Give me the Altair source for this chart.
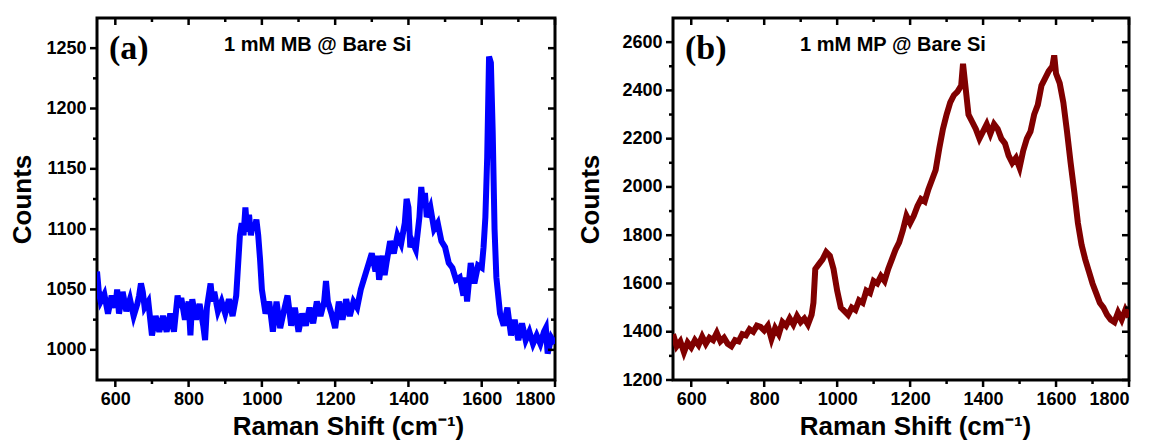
import altair as alt
import pandas as pd

# ---------------- data ----------------
mb_shift = [550,555,560,570,580,590,600,605,610,620,630,640,650,660,665,670,675,680,690,700,
            710,720,730,740,750,760,770,775,780,790,800,805,810,820,830,840,845,850,860,865,
            870,880,890,900,910,920,930,935,940,945,950,955,960,965,970,975,980,985,990,995,
            1000,1010,1020,1030,1040,1050,1060,1070,1080,1090,1100,1110,1120,1130,1140,1150,
            1160,1170,1175,1180,1190,1200,1210,1220,1230,1240,1250,1260,1270,1280,1290,1300,
            1310,1315,1320,1330,1335,1340,1350,1360,1370,1380,1390,1395,1400,1405,1410,1420,
            1430,1435,1440,1445,1450,1460,1470,1480,1490,1500,1510,1520,1530,1540,1550,1555,
            1560,1570,1580,1590,1600,1605,1610,1615,1620,1625,1630,1635,1640,1650,1660,1670,
            1680,1690,1700,1710,1720,1730,1740,1750,1760,1770,1775,1780,1790,1800]
mb_counts = [1065,1048,1040,1046,1030,1045,1035,1050,1030,1048,1032,1042,1028,1038,1045,1055,1048,1035,1040,1012,
             1028,1015,1028,1015,1030,1015,1045,1035,1043,1025,1040,1012,1042,1025,1038,1020,1008,1035,1055,1040,
             1048,1032,1040,1030,1042,1028,1045,1070,1095,1105,1095,1118,1098,1112,1095,1105,1100,1108,1095,1075,
             1050,1030,1040,1015,1040,1018,1032,1045,1020,1035,1015,1030,1020,1035,1022,1040,
             1028,1040,1057,1040,1030,1018,1040,1025,1042,1028,1040,1035,1050,1060,1070,1080,
             1065,1078,1058,1078,1062,1072,1090,1080,1095,1088,1105,1125,1118,1085,1090,1083,
             1110,1135,1120,1130,1110,1118,1100,1105,1090,1085,1072,1068,1058,1060,1045,1060,
             1040,1072,1055,1070,1068,1085,1110,1160,1243,1238,1180,1100,1060,1030,1020,1035,
             1012,1025,1008,1022,1008,1015,1005,1012,1005,1015,1018,997,1010,1005]

mp_shift = [550,560,570,580,590,600,610,620,630,640,650,660,670,680,690,700,710,720,730,740,
            750,760,770,780,790,800,810,820,830,840,850,860,870,880,890,900,910,920,930,935,
            940,950,960,970,980,990,1000,1010,1020,1030,1040,1050,1060,1070,1080,1090,1100,1110,
            1120,1130,1140,1150,1160,1170,1180,1190,1200,1210,1220,1230,1240,1250,1260,1270,
            1280,1290,1300,1310,1320,1330,1340,1345,1350,1360,1370,1380,1390,1400,1410,1420,
            1430,1440,1450,1460,1470,1480,1490,1500,1510,1520,1530,1540,1550,1560,1570,1580,
            1590,1595,1600,1610,1620,1630,1640,1650,1660,1670,1680,1690,1700,1710,1720,1730,
            1740,1750,1760,1770,1780,1790,1800]
mp_counts = [1390,1340,1360,1315,1355,1335,1365,1345,1380,1350,1375,1365,1395,1360,1375,1350,1340,1365,1360,1390,
             1385,1410,1400,1425,1420,1405,1425,1370,1415,1390,1440,1425,1455,1430,1465,1440,1455,1430,1470,1520,
             1660,1680,1700,1730,1715,1660,1570,1500,1485,1470,1500,1490,1530,1520,1570,1560,1610,1600,
             1630,1610,1660,1700,1740,1770,1820,1880,1850,1880,1920,1950,1940,1990,2030,2070,
             2160,2240,2300,2350,2380,2395,2420,2510,2440,2300,2270,2240,2200,2230,2260,2220,
             2260,2240,2200,2180,2130,2100,2120,2080,2150,2200,2230,2300,2340,2420,2450,2480,
             2500,2545,2470,2430,2350,2230,2100,1980,1850,1760,1700,1650,1600,1560,1520,1500,
             1470,1450,1440,1480,1450,1490,1460]

x_major = [600, 800, 1000, 1200, 1400, 1600, 1800]
x_minor = [700, 900, 1100, 1300, 1500, 1700]
mb_y_major = [1000, 1050, 1100, 1150, 1200, 1250]
mb_y_minor = [1025, 1075, 1125, 1175, 1225]
mp_y_major = [1200, 1400, 1600, 1800, 2000, 2200, 2400, 2600]
mp_y_minor = [1300, 1500, 1700, 1900, 2100, 2300, 2500]

tag_a, label_a = "(a)", "1 mM MB @ Bare Si"
tag_b, label_b = "(b)", "1 mM MP @ Bare Si"
x_title = "Raman Shift (cm\u207b\u00b9)"
y_title = "Counts"

FONT = "Liberation Sans"
H = 362
MAJ, MIN, TW = 7, 4, 2.5


def panel(shift, counts, color, ydom, ymaj, ymin, width, title_x, title_pad, tag, label, lab_x):
    df = pd.DataFrame({"shift": shift, "counts": counts})
    xs = alt.Scale(domain=[550, 1800], nice=False, zero=False)
    ys = alt.Scale(domain=ydom, nice=False, zero=False)
    xaxis = alt.Axis(
        values=x_major, format="d", orient="bottom", ticks=False, domain=False, grid=False,
        labelFont=FONT, labelFontWeight="bold", labelFontSize=18, labelColor="black",
        labelPadding=3 + MAJ, title=x_title, titleFont=FONT, titleFontSize=26,
        titleFontWeight="bold", titleColor="black", titlePadding=5, titleX=title_x)
    yaxis = alt.Axis(
        values=ymaj, format="d", orient="left", ticks=False, domain=False, grid=False,
        labelFont=FONT, labelFontWeight="bold", labelFontSize=18, labelColor="black",
        labelPadding=4 + MAJ, title=y_title, titleFont=FONT, titleFontSize=26,
        titleFontWeight="bold", titleColor="black", titlePadding=title_pad)

    main = alt.Chart(df).mark_line(color=color, strokeWidth=6, clip=True).encode(
        x=alt.X("shift:Q", scale=xs, axis=xaxis),
        y=alt.Y("counts:Q", scale=ys, axis=yaxis),
    )

    def xrule(vals, y0, y1):
        return alt.Chart(pd.DataFrame({"shift": vals})).mark_rule(
            color="black", strokeWidth=TW, clip=False).encode(
            x=alt.X("shift:Q", scale=xs, axis=xaxis), y=alt.value(y0), y2=alt.value(y1))

    def yrule(vals, x0, x1):
        return alt.Chart(pd.DataFrame({"counts": vals})).mark_rule(
            color="black", strokeWidth=TW, clip=False).encode(
            y=alt.Y("counts:Q", scale=ys, axis=yaxis), x=alt.value(x0), x2=alt.value(x1))

    tick_layers = [
        xrule(x_major, H, H + MAJ), xrule(x_minor, H, H + MIN),
        xrule(x_major, 0, MAJ), xrule(x_minor, 0, MIN),
        yrule(ymaj, -MAJ, 0), yrule(ymin, -MIN, 0),
        yrule(ymaj, width - MAJ, width), yrule(ymin, width - MIN, width),
    ]

    tag_layer = alt.Chart(pd.DataFrame({"t": [tag]})).mark_text(
        font="Liberation Serif", fontWeight="bold", fontSize=34, align="left",
        baseline="alphabetic", color="black").encode(
        x=alt.value(12), y=alt.value(41), text="t:N")
    lab_layer = alt.Chart(pd.DataFrame({"t": [label]})).mark_text(
        font=FONT, fontWeight="bold", fontSize=20, align="left",
        baseline="alphabetic", color="black").encode(
        x=alt.value(lab_x), y=alt.value(33), text="t:N")

    return alt.layer(main, *tick_layers, tag_layer, lab_layer).properties(width=width, height=H)


left = panel(mb_shift, mb_counts, "#0000ff", [975, 1275], mb_y_major, mb_y_minor, 458, 251, 10,
             tag_a, label_a, 127)
right = panel(mp_shift, mp_counts, "#800000", [1200, 2700], mp_y_major, mp_y_minor, 456, 242, 18,
              tag_b, label_b, 127)

chart = alt.hconcat(left, right, spacing=18).properties(
    padding={"left": 0, "top": 7, "right": 0, "bottom": 0},
    background="white",
).configure_view(stroke="black", strokeWidth=3)

chart.save("out.html", embed_options={"renderer": "svg", "actions": False})
